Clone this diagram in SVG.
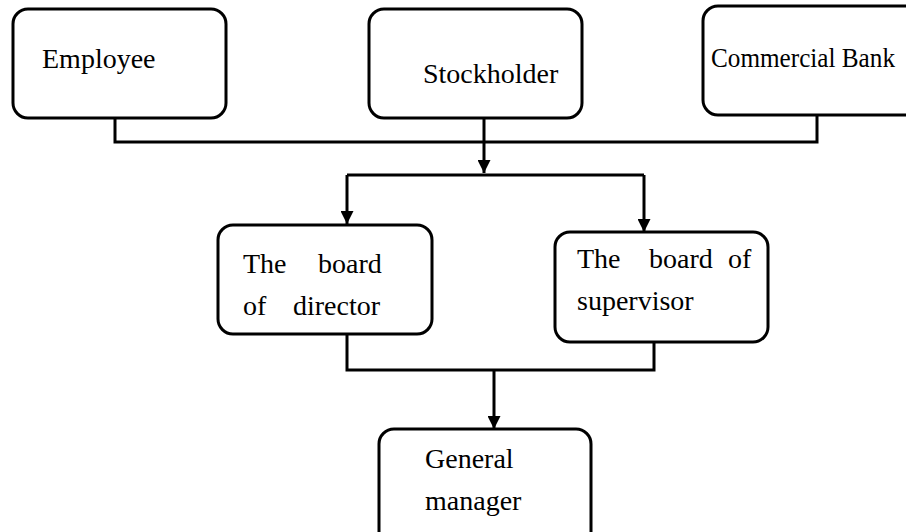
<svg xmlns="http://www.w3.org/2000/svg" width="906" height="532" viewBox="0 0 906 532">
  <defs>
    <style>
      .box { fill: #ffffff; stroke: #000000; stroke-width: 3; }
      .lbl { font-family: "Liberation Serif", "Times New Roman", serif; font-size: 28px; fill: #000000; }
      .wire { fill: none; stroke: #000000; stroke-width: 3; }
    </style>
    <marker id="arrow" viewBox="0 0 12 12" refX="12" refY="6" markerWidth="13" markerHeight="13" markerUnits="userSpaceOnUse" orient="auto">
      <path d="M0,0 L12,6 L0,12 Z" fill="#000000"/>
    </marker>
  </defs>
  <rect width="906" height="532" fill="#ffffff"/>

  <!-- connectors -->
  <g id="connectors">
    <!-- top tier merges into one trunk -->
    <polyline class="wire" points="115,118 115,142 817,142 817,115"/>
    <line class="wire" x1="484" y1="118" x2="484" y2="173" marker-end="url(#arrow)"/>
    <!-- split to the two boards -->
    <polyline class="wire" points="347,175 644,175"/>
    <line class="wire" x1="347" y1="175" x2="347" y2="224" marker-end="url(#arrow)"/>
    <line class="wire" x1="644" y1="175" x2="644" y2="232" marker-end="url(#arrow)"/>
    <!-- boards merge down to the manager -->
    <polyline class="wire" points="347,334 347,370 654,370 654,342"/>
    <line class="wire" x1="494" y1="370" x2="494" y2="429" marker-end="url(#arrow)"/>
  </g>

  <!-- nodes -->
  <g id="employee">
    <rect class="box" x="13" y="9" width="213" height="109" rx="15"/>
    <text class="lbl" x="42" y="68">Employee</text>
  </g>
  <g id="stockholder">
    <rect class="box" x="369" y="9" width="213" height="109" rx="15"/>
    <text class="lbl" x="423" y="83">Stockholder</text>
  </g>
  <g id="commercial-bank">
    <rect class="box" x="703" y="6" width="230" height="109" rx="15"/>
    <text class="lbl" x="711" y="67" textLength="184" lengthAdjust="spacingAndGlyphs">Commercial Bank</text>
  </g>
  <g id="board-of-director">
    <rect class="box" x="218" y="225" width="214" height="109" rx="15"/>
    <text class="lbl" x="243" y="273">The</text>
    <text class="lbl" x="318" y="273">board</text>
    <text class="lbl" x="243" y="315">of</text>
    <text class="lbl" x="293" y="315">director</text>
  </g>
  <g id="board-of-supervisor">
    <rect class="box" x="555" y="232" width="213" height="110" rx="15"/>
    <text class="lbl" x="577" y="268">The</text>
    <text class="lbl" x="649" y="268">board</text>
    <text class="lbl" x="728" y="268">of</text>
    <text class="lbl" x="577" y="310">supervisor</text>
  </g>
  <g id="general-manager">
    <rect class="box" x="379" y="429" width="212" height="120" rx="15"/>
    <text class="lbl" x="425" y="468">General</text>
    <text class="lbl" x="425" y="510">manager</text>
  </g>
</svg>
